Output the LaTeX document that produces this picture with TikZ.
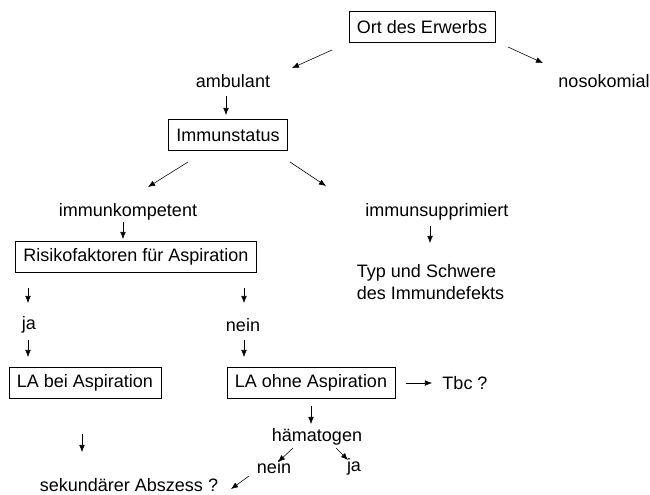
\documentclass[tikz,border=0pt]{standalone}
\usepackage{fontspec}
\setmainfont{Liberation Sans}
\usetikzlibrary{arrows.meta}
\begin{document}
\begin{tikzpicture}[>={Latex[length=5pt,width=4pt]},x=0.025cm,y=-0.025cm,
  font=\fontsize{12.8}{16}\selectfont,
  box/.style={draw,thin,inner xsep=0.2cm,minimum height=0.78cm},
  pfeil/.style={->,thin}]
  \useasboundingbox (0,0) rectangle (650,494);
  % Knoten
  \node[box] (ort) at (422,27) {Ort des Erwerbs};
  \node (amb) at (233,81) {ambulant};
  \node (noso) at (604,81) {nosokomial};
  \node[box] (immun) at (228,135) {Immunstatus};
  \node (kompetent) at (128,212) {immunkompetent};
  \node (suppr) at (437,212) {immunsupprimiert};
  \node[anchor=west,align=left] (typ) at (352,282) {Typ und Schwere\\des Immundefekts};
  \node[box] (risiko) at (136,257) {Risikofaktoren f\"ur Aspiration};
  \node (ja) at (29,325) {ja};
  \node (nein) at (243,325) {nein};
  \node[box] (labei) at (85,383) {LA bei Aspiration};
  \node[box] (laohne) at (311,383) {LA ohne Aspiration};
  \node (tbc) at (465,383) {Tbc ?};
  \node (haema) at (317,437) {h\"amatogen};
  \node (nein2) at (274,467) {nein};
  \node (ja2) at (354,467) {ja};
  \node (abszess) at (129,485) {sekund\"arer Abszess ?};
  % Pfeile
  \coordinate (p1) at (332,50); \coordinate (p2) at (292,68);
  \coordinate (p3) at (508,47); \coordinate (p4) at (543,63);
  \coordinate (p5) at (226,96); \coordinate (p6) at (226,115);
  \coordinate (p7) at (188,162); \coordinate (p8) at (148,187);
  \coordinate (p9) at (290,162); \coordinate (p10) at (326,186);
  \coordinate (p11) at (123,222); \coordinate (p12) at (123,239);
  \coordinate (p13) at (430,226); \coordinate (p14) at (430,243);
  \coordinate (p15) at (28,288); \coordinate (p16) at (28,303);
  \coordinate (p17) at (244,288); \coordinate (p18) at (244,303);
  \coordinate (p19) at (28,340); \coordinate (p20) at (28,357);
  \coordinate (p21) at (244,340); \coordinate (p22) at (244,357);
  \coordinate (p23) at (406,383); \coordinate (p24) at (432,383);
  \coordinate (p25) at (311,406); \coordinate (p26) at (311,424);
  \coordinate (p27) at (82,434); \coordinate (p28) at (82,452);
  \coordinate (p29) at (293,448); \coordinate (p30) at (278,462);
  \coordinate (p31) at (336,448); \coordinate (p32) at (348,460);
  \coordinate (p33) at (249,476); \coordinate (p34) at (231,489);
  \foreach \a/\b in {p1/p2,p3/p4,p5/p6,p7/p8,p9/p10,p11/p12,p13/p14,p15/p16,
    p17/p18,p19/p20,p21/p22,p23/p24,p25/p26,p27/p28,p29/p30,p31/p32,p33/p34}
    \draw[pfeil] (\a) -- (\b);
\end{tikzpicture}
\end{document}
